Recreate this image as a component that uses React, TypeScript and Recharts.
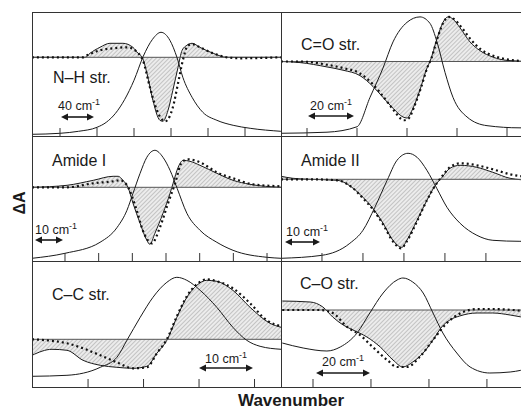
import React from 'react';
import { ComposedChart, Line, Area, XAxis, YAxis, ReferenceLine } from 'recharts';

type P = [number, number];

// ---------- N–H str. ----------
const nhBand: P[] = [[0.24,-7.7],[1.0,-7.6],[1.5,-7.4],[2.0,-7.0],[2.25,-6.5],[2.5,-5.6],[2.75,-4.2],[3.0,-2.3],[3.25,0.1],[3.5,1.8],[3.73,2.5],[3.97,1.7],[4.16,0],[4.32,-2.0],[4.57,-4.0],[4.86,-5.5],[5.24,-6.3],[5.68,-6.8],[6.14,-7.1],[6.97,-7.4]];
const nhDiff: P[] = [[0.24,0],[1.68,0],[1.81,0.4],[2.08,1.0],[2.35,1.4],[2.7,1.4],[2.97,1.0],[3.11,0.4],[3.22,0],[3.35,-1.6],[3.51,-4.3],[3.7,-6.3],[3.78,-6.4],[3.92,-5.3],[4.05,-3.3],[4.19,-1.0],[4.3,0.7],[4.43,1.2],[4.57,1.4],[4.78,1.0],[5.14,0.4],[5.51,0],[6.97,0]];
const nhFit: P[] = [[0.24,0],[1.62,0],[1.73,0.2],[2.08,0.7],[2.43,0.9],[2.81,1.0],[3.03,0.7],[3.16,0.2],[3.24,-0.3],[3.43,-3.0],[3.62,-5.3],[3.84,-6.4],[3.92,-6.2],[4.05,-5.0],[4.19,-2.6],[4.32,-0.3],[4.46,1.2],[4.59,1.3],[4.78,1.0],[5.14,0.4],[5.51,0],[5.86,-0.1],[6.97,0]];

// ---------- C=O str. ----------
const coBand: P[] = [[0.48,-6.6],[1.4,-6.5],[2.0,-6.0],[2.26,-3.3],[2.52,-0.6],[2.72,1.8],[3.0,3.6],[3.26,4.1],[3.46,3.5],[3.6,1.8],[3.76,-1.0],[3.92,-3.3],[4.2,-5.1],[4.6,-5.9],[5.26,-6.1],[5.48,-6.1]];
const coDiff: P[] = [[0.48,0],[0.86,-0.1],[1.4,-0.5],[1.72,-0.8],[2.06,-1.3],[2.32,-2.3],[2.52,-3.3],[2.72,-4.3],[2.92,-5.1],[3.0,-5.2],[3.12,-4.3],[3.26,-2.6],[3.4,-0.6],[3.46,0],[3.6,2.1],[3.72,3.6],[3.82,4.1],[3.92,3.9],[4.06,3.1],[4.26,1.8],[4.46,1.0],[4.72,0.4],[5.0,0.1],[5.48,0]];
const coFit: P[] = [[0.48,0],[0.86,0],[1.4,-0.3],[1.72,-0.6],[2.06,-1.1],[2.32,-2.1],[2.52,-3.2],[2.72,-4.4],[2.94,-5.4],[3.04,-5.2],[3.14,-4.2],[3.28,-2.4],[3.42,-0.4],[3.48,0.2],[3.62,2.3],[3.74,3.7],[3.84,4.1],[3.94,3.9],[4.08,3.2],[4.28,2.0],[4.48,1.1],[4.74,0.5],[5.0,0.2],[5.48,0]];

// ---------- Amide I ----------
const a1Band: P[] = [[0.02,-7.1],[1.0,-6.6],[2.04,-5.5],[2.55,-4.0],[2.84,-2.3],[3.02,-0.6],[3.23,1.4],[3.43,3.0],[3.67,3.7],[3.91,3.0],[4.12,1.7],[4.33,-0.1],[4.62,-2.6],[5.01,-4.3],[5.51,-5.5],[5.99,-6.3],[7.0,-7.0],[7.42,-7.1]];
const a1Diff: P[] = [[0.02,0],[1.06,0.2],[1.84,0.7],[2.43,1.1],[2.58,1.1],[2.72,0.7],[2.87,0],[3.02,-1.6],[3.23,-3.6],[3.43,-5.3],[3.52,-5.7],[3.67,-4.6],[3.91,-2.6],[4.12,-0.6],[4.21,0.4],[4.36,2.0],[4.51,2.7],[4.71,2.6],[5.01,2.2],[5.51,1.4],[5.99,0.7],[6.49,0.3],[7.42,0]];
const a1Fit: P[] = [[0.02,0],[1.06,0],[1.84,0.4],[2.43,0.6],[2.63,0.7],[2.84,0.2],[3.13,-2.3],[3.31,-4.3],[3.52,-5.5],[3.58,-5.6],[3.82,-4.0],[4.06,-1.6],[4.27,0.4],[4.47,2.5],[4.65,2.8],[5.01,2.5],[5.51,1.5],[5.99,0.9],[6.58,0.3],[7.42,0.1]];

// ---------- Amide II ----------
const a2Band: P[] = [[0,-7.9],[1.0,-7.6],[1.68,-6.4],[2.0,-5.1],[2.29,-2.8],[2.59,-0.1],[2.83,1.9],[3.1,2.6],[3.32,2.2],[3.56,0.9],[3.8,-0.9],[4.05,-2.8],[4.37,-4.4],[4.78,-5.6],[5.17,-6.1],[5.83,-6.2],[6.1,-6.2]];
const a2Diff: P[] = [[0,0.3],[0.29,0.1],[0.71,0],[1.37,-0.1],[1.76,-0.9],[2.0,-1.8],[2.24,-2.9],[2.49,-4.4],[2.73,-6.1],[2.95,-6.8],[3.07,-6.1],[3.32,-4.1],[3.56,-2.1],[3.8,-0.4],[3.93,0.2],[4.12,1.1],[4.37,1.4],[4.78,1.2],[5.17,0.7],[5.59,0.1],[6.1,-0.1]];
const a2Fit: P[] = [[0,0],[0.71,0],[1.37,-0.1],[1.76,-0.9],[2.0,-1.9],[2.24,-3.0],[2.49,-4.5],[2.73,-6.2],[2.93,-6.9],[3.07,-6.2],[3.32,-4.2],[3.56,-2.1],[3.8,-0.4],[3.93,0.3],[4.12,1.2],[4.37,1.6],[4.78,1.4],[5.17,1.0],[5.59,0.5],[6.1,0.2]];

// ---------- C–C str. ----------
const ccBand: P[] = [[-0.01,-3.7],[0.62,-3.6],[1.22,-2.8],[1.52,-1.8],[1.7,-0.1],[1.94,2.2],[2.17,4.2],[2.42,5.7],[2.6,6.2],[2.78,5.9],[3.02,4.9],[3.32,3.2],[3.61,1.2],[3.86,-0.1],[4.1,-0.7],[4.48,-1.0]];
const ccDiff: P[] = [[-0.01,-1.6],[0.35,-1.0],[0.62,-1.1],[0.91,-2.1],[1.22,-2.6],[1.52,-2.8],[1.81,-2.9],[2.06,-2.7],[2.24,-1.4],[2.42,-0.1],[2.6,2.2],[2.78,4.2],[2.96,5.4],[3.14,5.9],[3.32,5.8],[3.61,4.9],[3.92,3.2],[4.28,1.6],[4.48,1.2]];
const ccFit: P[] = [[-0.01,0],[0.62,-0.4],[0.91,-0.9],[1.22,-1.6],[1.52,-2.3],[1.81,-2.9],[2.06,-2.8],[2.24,-1.4],[2.42,0],[2.6,2.3],[2.78,4.3],[2.96,5.5],[3.14,6.0],[3.32,5.8],[3.61,5.1],[3.92,3.6],[4.22,1.9],[4.48,1.3]];

// ---------- C–O str. ----------
const cosBand: P[] = [[0.47,-3.3],[0.83,-3.8],[1.24,-4.1],[1.47,-3.7],[1.76,-2.3],[1.98,-0.3],[2.21,1.7],[2.45,3.0],[2.55,3.2],[2.72,2.8],[2.9,1.7],[3.07,-0.3],[3.24,-2.3],[3.48,-4.3],[3.71,-5.7],[4.05,-6.3],[4.4,-6.2],[4.76,-5.8]];
const cosDiff: P[] = [[0.47,0.9],[0.95,0.8],[1.17,0.3],[1.34,-0.7],[1.52,-1.5],[1.69,-2.0],[1.93,-2.7],[2.16,-3.7],[2.38,-5.0],[2.55,-5.7],[2.72,-5.2],[2.9,-4.3],[3.07,-3.0],[3.22,-1.7],[3.36,-1.0],[3.53,-0.6],[3.83,-0.3],[4.1,-0.3],[4.4,-0.5],[4.76,-0.9]];
const cosFit: P[] = [[0.47,0],[1.12,0],[1.34,-0.3],[1.59,-1.7],[1.81,-2.5],[2.03,-3.7],[2.28,-5.0],[2.45,-5.7],[2.62,-5.7],[2.84,-4.7],[3.07,-3.0],[3.31,-1.3],[3.59,-0.2],[3.83,0.1],[4.1,0.1],[4.76,-0.2]];

const toRows = (pts: P[]) => pts.map(([x, y]) => ({ x, y }));

interface PanelDef {
  id: string;
  left: number; top: number; width: number; height: number;
  xDomain: [number, number]; yDomain: [number, number];
  ticks: number[];
  band: P[]; diff: P[]; fit: P[];
}

const panels: PanelDef[] = [
  { id: 'nh', left: 32, top: 12, width: 249, height: 124, xDomain: [0.243, 6.973], yDomain: [-7.87, 4.53], ticks: [1,2,3,4,5,6], band: nhBand, diff: nhDiff, fit: nhFit },
  { id: 'co', left: 281, top: 12, width: 250, height: 124, xDomain: [0.48, 5.48], yDomain: [-6.85, 4.55], ticks: [1,2,3,4,5], band: coBand, diff: coDiff, fit: coFit },
  { id: 'a1', left: 32, top: 136, width: 249, height: 125, xDomain: [0.02, 7.415], yDomain: [-7.37, 5.13], ticks: [1,2,3,4,5,6,7], band: a1Band, diff: a1Diff, fit: a1Fit },
  { id: 'a2', left: 281, top: 136, width: 250, height: 125, xDomain: [0, 6.1], yDomain: [-8.17, 4.33], ticks: [1,2,3,4,5,6], band: a2Band, diff: a2Diff, fit: a2Fit },
  { id: 'cc', left: 32, top: 261, width: 249, height: 126, xDomain: [-0.01, 4.477], yDomain: [-4.77, 7.83], ticks: [1,2,3,4], band: ccBand, diff: ccDiff, fit: ccFit },
  { id: 'cos', left: 281, top: 261, width: 250, height: 126, xDomain: [0.448, 4.76], yDomain: [-7.7, 4.9], ticks: [1,2,3,4], band: cosBand, diff: cosDiff, fit: cosFit },
];

const FONT = "'Liberation Sans', Arial, Helvetica, sans-serif";
const INK = '#1a1a1a';

const EmptyTick = () => <g />;

function Panel({ p }: { p: PanelDef }) {
  const pid = `hatch-${p.id}`;
  return (
    <div style={{ position: 'absolute', left: p.left, top: p.top }}>
      <ComposedChart width={p.width} height={p.height} margin={{ top: 0, right: 0, bottom: 0, left: 0 }}>
        <defs>
          <pattern id={pid} patternUnits="userSpaceOnUse" width="3" height="3" patternTransform="rotate(45)">
            <rect width="3" height="3" fill="#ececec" />
            <line x1="0" y1="0" x2="0" y2="3" stroke="#9a9a9a" strokeWidth="1" />
          </pattern>
        </defs>
        <XAxis dataKey="x" type="number" domain={p.xDomain} allowDataOverflow ticks={p.ticks} mirror
          height={1} axisLine={false} tick={EmptyTick} tickSize={8} tickLine={{ stroke: '#333', strokeWidth: 1 }} />
        <YAxis type="number" domain={p.yDomain} allowDataOverflow hide />
        <Area data={toRows(p.diff)} dataKey="y" type="monotone" baseValue={0} fill={`url(#${pid})`} fillOpacity={1}
          stroke={INK} strokeWidth={1} isAnimationActive={false} dot={false} activeDot={false} />
        <ReferenceLine y={0} stroke="#555" strokeWidth={1} />
        <Line data={toRows(p.band)} dataKey="y" type="monotone" stroke={INK} strokeWidth={1} dot={false}
          activeDot={false} isAnimationActive={false} />
        <Line data={toRows(p.fit)} dataKey="y" type="monotone" stroke="#111" strokeWidth={2.2} strokeDasharray="2 3"
          dot={false} activeDot={false} isAnimationActive={false} />
      </ComposedChart>
    </div>
  );
}

function ScaleBar({ x1, x2, y, tx, ty, label }: { x1: number; x2: number; y: number; tx: number; ty: number; label: string }) {
  return (
    <g>
      <line x1={x1 + 4} y1={y} x2={x2 - 4} y2={y} stroke={INK} strokeWidth={1.6} />
      <polygon points={`${x1},${y} ${x1 + 7},${y - 3.5} ${x1 + 7},${y + 3.5}`} fill={INK} />
      <polygon points={`${x2},${y} ${x2 - 7},${y - 3.5} ${x2 - 7},${y + 3.5}`} fill={INK} />
      <text x={tx} y={ty} fontSize={12.5} fontFamily={FONT} fill={INK}>
        {label} cm<tspan dy={-5} fontSize={9}>-1</tspan>
      </text>
    </g>
  );
}

export default function App() {
  return (
    <div style={{ position: 'absolute', left: 0, top: 0, width: 521, height: 410, overflow: 'hidden', background: '#fff' }}>
      {panels.map((p) => <Panel key={p.id} p={p} />)}
      <svg width={521} height={410} style={{ position: 'absolute', left: 0, top: 0, pointerEvents: 'none' }}>
        <g stroke="#333" strokeWidth={1} fill="none">
          <line x1={32.5} y1={12} x2={32.5} y2={388} />
          <line x1={32} y1={12.5} x2={531} y2={12.5} />
          <line x1={32} y1={387.5} x2={531} y2={387.5} />
          <line x1={281.5} y1={12} x2={281.5} y2={388} />
          <line x1={32} y1={136.5} x2={531} y2={136.5} />
          <line x1={32} y1={261.5} x2={531} y2={261.5} />
        </g>
        <g fontFamily={FONT} fontSize={16} fill={INK}>
          <text x={53} y={83}>N–H str.</text>
          <text x={301} y={50}>C=O str.</text>
          <text x={52} y={166}>Amide I</text>
          <text x={301} y={166}>Amide II</text>
          <text x={52} y={300}>C–C str.</text>
          <text x={300} y={289}>C–O str.</text>
        </g>
        <ScaleBar x1={61} x2={94} y={117} tx={58} ty={110} label="40" />
        <ScaleBar x1={308} x2={354} y={116} tx={310} ty={110} label="20" />
        <ScaleBar x1={35} x2={63} y={240} tx={35} ty={234} label="10" />
        <ScaleBar x1={285} x2={320} y={242} tx={286} ty={236} label="10" />
        <ScaleBar x1={199} x2={253} y={368} tx={205} ty={363} label="10" />
        <ScaleBar x1={316} x2={370} y={373} tx={322} ty={366} label="20" />
        <text x={0} y={0} transform="translate(25,203) rotate(-90)" textAnchor="middle" fontFamily={FONT}
          fontWeight="bold" fontSize={16} fill={INK}>ΔA</text>
        <text x={238} y={406} fontFamily={FONT} fontWeight="bold" fontSize={17} fill={INK}>Wavenumber</text>
      </svg>
    </div>
  );
}
